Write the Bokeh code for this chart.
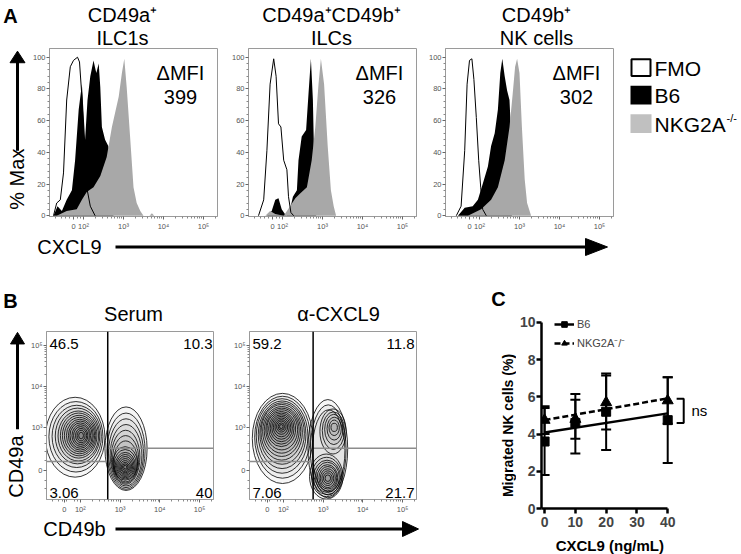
import math
import numpy as np
from bokeh.plotting import figure
from bokeh.layouts import row, column
from bokeh.models import (Label, FixedTicker, Whisker, TeeHead, ColumnDataSource, Legend,
                          LegendItem, Range1d, Span, CustomJSTickFormatter)
from bokeh.embed import file_html
from bokeh.resources import INLINE

FONT = "Liberation Sans"

# ---------------- Panel A: CXCL9 histograms (x: display decades, y: % Max) ----
titles_a = [["CD49a⁺", "ILC1s"], ["CD49a⁺CD49b⁺", "ILCs"], ["CD49b⁺", "NK cells"]]
dmfi = ["399", "326", "302"]

fmo1_x = [1.25, 1.33, 1.42, 1.50, 1.58, 1.67, 1.75, 1.85, 1.90, 1.96, 2.00, 2.04, 2.08, 2.17, 2.29]
fmo1_y = [0, 8, 10, 27, 73, 94, 98, 100, 97, 75, 52, 35, 18, 6, 0]
b61_x = [1.25, 1.35, 1.46, 1.58, 1.71, 1.79, 1.88, 1.96, 2.04, 2.10, 2.17, 2.25, 2.32, 2.38,
         2.42, 2.46, 2.54, 2.62, 2.67, 2.75]
b61_y = [0, 6, 3, 10, 16, 35, 67, 83, 48, 73, 88, 98, 90, 96, 81, 56, 48, 44, 37, 0]
ko1_x = [1.33, 1.58, 1.83, 1.96, 2.08, 2.25, 2.42, 2.58, 2.71, 2.79, 2.88, 2.96, 3.02, 3.08,
         3.17, 3.25, 3.33, 3.42, 3.50, 3.65, 3.71, 3.77]
ko1_y = [0, 3, 4, 10, 15, 18, 25, 37, 56, 65, 75, 90, 99, 81, 48, 18, 8, 3, 0, 0, 1.5, 0]

fmo2_x = [1.40, 1.53, 1.61, 1.69, 1.78, 1.84, 1.90, 1.96, 2.03, 2.11, 2.15, 2.21, 2.28]
fmo2_y = [0, 10, 41, 83, 99, 88, 58, 56, 35, 29, 12, 2, 0]
b62_x = [1.61, 1.73, 1.82, 1.90, 1.98, 2.09, 2.18, 2.26, 2.36, 2.40, 2.48, 2.59, 2.65, 2.71,
         2.76, 2.79, 2.84]
b62_y = [0, 3, 10, 11, 4, 0, 3, 12, 16, 35, 50, 54, 77, 99, 73, 37, 0]
ko2_x = [1.57, 1.69, 1.82, 2.03, 2.19, 2.32, 2.44, 2.61, 2.73, 2.82, 2.90, 2.96, 3.04, 3.13,
         3.21, 3.28, 3.34]
ko2_y = [0, 3, 1, 0, 6, 11, 14, 18, 35, 56, 83, 99, 83, 44, 16, 6, 0]

fmo3_x = [1.42, 1.54, 1.63, 1.69, 1.75, 1.81, 1.86, 1.92, 1.98, 2.03, 2.08, 2.17]
fmo3_y = [0, 6, 41, 83, 98, 99, 86, 62, 35, 18, 4, 0]
b63_x = [1.46, 1.63, 1.83, 1.96, 2.08, 2.21, 2.29, 2.38, 2.46, 2.52, 2.57, 2.63, 2.69, 2.75,
         2.77, 2.81]
b63_y = [0, 5, 6, 10, 20, 31, 44, 52, 67, 90, 99, 88, 79, 73, 62, 0]
ko3_x = [1.71, 2.04, 2.29, 2.46, 2.63, 2.75, 2.83, 2.89, 2.94, 3.00, 3.06, 3.13, 3.19, 3.29]
ko3_y = [0, 4, 10, 18, 35, 56, 77, 94, 99, 90, 56, 23, 8, 0]

log_tick_pos = [1.75, 2, 3, 4, 5]
log_tick_lab = ["0", "10²", "10³", "10⁴", "10⁵"]
pct_ticks = [0, 20, 40, 60, 80, 100]
legend_a = ["FMO", "B6", "NKG2A"]

# ---------------- Panel B: CD49a vs CD49b contour plots ----------------
titles_b = ["Serum", "α-CXCL9"]
quad_serum = ["46.5", "10.3", "3.06", "40"]
quad_acx = ["59.2", "11.8", "7.06", "21.7"]
gate_serum = [2.69, 2.17, 2.49]   # vertical x, left horizontal y, right horizontal y
gate_acx = [2.75, 2.17, 2.49]
b_xtick_pos = [1.6, 2, 3, 4, 5]
b_xtick_lab = ["0", "10²", "10³", "10⁴", "10⁵"]
b_ytick_pos = [1.95, 3, 4, 5]
b_ytick_lab = ["0", "10³", "10⁴", "10⁵"]

serum_cx = [1.87, 1.89, 1.91, 1.93, 1.95, 1.96, 1.97, 1.98, 1.99, 2.00, 2.00, 2.01, 2.01, 2.02, 2.02, 2.02,
            3.15, 3.15, 3.15, 3.15, 3.14, 3.14, 3.14, 3.13, 3.13, 3.13, 3.13, 3.13, 3.13, 3.13, 3.13, 3.13, 3.13]
serum_cy = [2.76, 2.77, 2.78, 2.79, 2.79, 2.80, 2.80, 2.80, 2.80, 2.80, 2.80, 2.80, 2.80, 2.80, 2.80, 2.80,
            2.48, 2.42, 2.37, 2.32, 2.27, 2.22, 2.17, 2.12, 2.10, 2.08, 2.07, 2.06, 2.05, 2.04, 2.03, 2.03, 2.03]
serum_w = [1.50, 1.36, 1.24, 1.12, 1.02, 0.92, 0.84, 0.76, 0.68, 0.60, 0.52, 0.44, 0.36, 0.28, 0.20, 0.12,
           1.06, 0.96, 0.88, 0.80, 0.72, 0.66, 0.60, 0.62, 0.56, 0.50, 0.44, 0.38, 0.32, 0.26, 0.20, 0.14, 0.08]
serum_h = [1.95, 1.72, 1.52, 1.36, 1.22, 1.10, 0.99, 0.89, 0.80, 0.71, 0.62, 0.53, 0.44, 0.35, 0.26, 0.16,
           2.04, 1.86, 1.68, 1.50, 1.32, 1.16, 1.00, 0.82, 0.72, 0.62, 0.54, 0.46, 0.38, 0.30, 0.23, 0.16, 0.09]

acx_cx = [1.98, 1.98, 1.97, 1.97, 1.97, 1.96, 1.96, 1.96, 1.96, 1.95, 1.95, 1.95, 1.95, 1.95, 1.95, 1.95, 1.95, 1.95,
          3.12, 3.13, 3.14, 3.25, 3.26, 3.27, 3.28, 3.28, 3.28,
          3.08, 3.09, 3.10, 3.11, 3.11, 3.12, 3.12, 3.12, 3.12, 3.12]
acx_cy = [2.73, 2.76, 2.79, 2.82, 2.85, 2.88, 2.90, 2.92, 2.94, 2.96, 2.97, 2.98, 2.99, 3.00, 3.01, 3.02, 3.02, 3.02,
          2.48, 2.45, 2.43, 2.90, 2.92, 2.95, 2.97, 2.99, 3.00,
          1.80, 1.79, 1.78, 1.78, 1.77, 1.77, 1.76, 1.76, 1.76, 1.76]
acx_w = [1.52, 1.40, 1.30, 1.20, 1.12, 1.04, 0.96, 0.88, 0.80, 0.72, 0.64, 0.56, 0.48, 0.40, 0.32, 0.24, 0.16, 0.09,
         1.00, 0.90, 0.82, 0.66, 0.56, 0.46, 0.36, 0.26, 0.16,
         0.84, 0.76, 0.68, 0.60, 0.52, 0.45, 0.38, 0.30, 0.22, 0.14]
acx_h = [2.20, 2.00, 1.82, 1.65, 1.50, 1.36, 1.22, 1.10, 0.98, 0.86, 0.76, 0.66, 0.56, 0.46, 0.36, 0.27, 0.18, 0.10,
         2.40, 2.20, 2.00, 1.10, 0.92, 0.74, 0.56, 0.38, 0.20,
         1.10, 0.96, 0.84, 0.74, 0.64, 0.55, 0.46, 0.36, 0.26, 0.16]

# ---------------- Panel C: migration assay ----------------
conc = [0, 10, 20, 40]
b6_mean = [3.6, 4.6, 5.2, 4.75]
b6_lo = [1.8, 2.95, 3.15, 2.45]
b6_hi = [5.4, 6.15, 7.25, 7.05]
ko_mean = [4.75, 4.8, 5.7, 5.8]
ko_lo = [4.0, 3.75, 4.25, 4.55]
ko_hi = [5.5, 5.85, 7.15, 7.05]
c_xticks = [0, 10, 20, 30, 40]
c_yticks = [0, 2, 4, 6, 8, 10]


# ---------------- helpers ----------------
def mk(width, height, xr, yr, L, R, T, B):
    p = figure(width=width, height=height, x_range=Range1d(*xr), y_range=Range1d(*yr),
               min_border_left=L, min_border_right=R, min_border_top=T, min_border_bottom=B,
               toolbar_location=None, output_backend="svg", title=None)
    p.xgrid.visible = False
    p.ygrid.visible = False
    p.background_fill_color = "white"
    p.border_fill_color = "white"
    return p


def label(p, fr, text, rx, ry, size, bold=False, align="center", baseline="middle"):
    """Label inside a plot frame; fr = (frame left, frame bottom) in page pixels."""
    fl, fb = fr
    p.add_layout(Label(x=rx - fl, y=fb - ry, x_units="screen", y_units="screen",
                       text=text, text_font=FONT, text_font_size=f"{size}px",
                       text_font_style="bold" if bold else "normal",
                       text_align=align, text_baseline=baseline, text_color="black"))


class Decor:
    """An axis-free strip used for panel letters, titles, arrows and legends."""

    def __init__(self, ox, oy, w, h):
        self.ox, self.oy = ox, oy
        p = figure(width=w, height=h, x_range=Range1d(0, w), y_range=Range1d(h, 0),
                   min_border=0, toolbar_location=None, output_backend="svg", title=None,
                   x_axis_location=None, y_axis_location=None)
        p.xgrid.visible = False
        p.ygrid.visible = False
        p.outline_line_color = None
        p.background_fill_color = "white"
        p.border_fill_color = "white"
        self.p = p

    def text(self, t, rx, ry, size, bold=False, align="center", baseline="middle", angle=0.0):
        self.p.add_layout(Label(x=rx - self.ox, y=ry - self.oy, text=t, text_font=FONT,
                                text_font_size=f"{size}px",
                                text_font_style="bold" if bold else "normal",
                                text_align=align, text_baseline=baseline, angle=angle,
                                text_color="black"))

    def arrow(self, x0, y0, x1, y1, head_len, head_w, width=3):
        dx, dy = x1 - x0, y1 - y0
        n = math.hypot(dx, dy)
        ux, uy = dx / n, dy / n
        bx, by = x1 - ux * head_len, y1 - uy * head_len
        px, py = -uy, ux
        ox, oy = self.ox, self.oy
        self.p.segment(x0=[x0 - ox], y0=[y0 - oy], x1=[bx + ux - ox], y1=[by + uy - oy],
                       line_width=width, line_color="black")
        self.p.patch(x=[x1 - ox, bx + px * head_w / 2 - ox, bx - px * head_w / 2 - ox],
                     y=[y1 - oy, by + py * head_w / 2 - oy, by - py * head_w / 2 - oy],
                     fill_color="black", line_color="black", line_width=1)

    def box(self, l, t, r, b, fill, line=None, lw=0):
        ox, oy = self.ox, self.oy
        self.p.quad(left=[l - ox], right=[r - ox], top=[t - oy], bottom=[b - oy],
                    fill_color=fill, line_color=line, line_width=lw)


def fmt(pos, lab):
    return CustomJSTickFormatter(args=dict(pos=pos, lab=lab), code="""
        for (let i = 0; i < pos.length; i++) { if (Math.abs(pos[i] - tick) < 1e-6) return lab[i]; }
        return '';""")


log_minor = [n + math.log10(k) for n in (2, 3, 4) for k in range(2, 10)] + \
            [5 + math.log10(2)] + [1.3, 1.45, 1.55, 1.65, 1.85, 1.92]


def flow_axes(p, xpos, xlab, ypos, ylab, yminor):
    p.outline_line_color = "#9a9a9a"
    for ax in (p.xaxis, p.yaxis):
        ax.axis_line_color = "#9a9a9a"
        ax.major_tick_line_color = "#666666"
        ax.minor_tick_line_color = "#888888"
        ax.major_tick_in = 0
        ax.major_tick_out = 3
        ax.minor_tick_in = 0
        ax.minor_tick_out = 2
        ax.major_label_text_font = FONT
        ax.major_label_text_font_size = "7.5px"
        ax.major_label_text_color = "#555555"
        ax.major_label_standoff = 2
    p.yaxis.major_label_standoff = 1
    p.xaxis.ticker = FixedTicker(ticks=xpos, minor_ticks=log_minor)
    p.xaxis.formatter = fmt(xpos, xlab)
    p.yaxis.ticker = FixedTicker(ticks=ypos, minor_ticks=yminor)
    if ylab is not None:
        p.yaxis.formatter = fmt(ypos, ylab)
    p.yaxis.major_label_orientation = "horizontal"


# ======================= Row 1: panel A =======================
hist_data = [(fmo1_x, fmo1_y, b61_x, b61_y, ko1_x, ko1_y),
             (fmo2_x, fmo2_y, b62_x, b62_y, ko2_x, ko2_y),
             (fmo3_x, fmo3_y, b63_x, b63_y, ko3_x, ko3_y)]
a_specs = [(196, 20, 8, 29), (200, 23, 9, 225), (196, 20, 8, 425)]   # width, L, R, x0
a_title_cx = [122, 331, 536]
pct_minor = [v for v in range(0, 101, 4) if v % 20 != 0]

topA = Decor(0, 0, 741, 47)
topA.text("A", 10, 15, 20, bold=True)
hists = []
for i, (w, L, R, x0) in enumerate(a_specs):
    p = mk(w, 189, (1.15, 5.35), (-0.5, 105.5), L, R, 1, 20)
    fx, fy, bx, by, kx, ky = hist_data[i]
    p.varea(x=bx, y1=0, y2=by, fill_color="black")
    p.varea(x=kx, y1=0, y2=ky, fill_color="#a8a8a8")
    p.line(x=fx, y=fy, line_color="black", line_width=1)
    flow_axes(p, log_tick_pos, log_tick_lab, pct_ticks, None, pct_minor)
    fl = x0 + L
    fr = (fl, 216)
    label(p, fr, "ΔMFI", fl + 168 - 37, 72, 20)
    label(p, fr, dmfi[i], fl + 168 - 37, 96, 20)
    topA.text(titles_a[i][0], a_title_cx[i], 14, 20)
    topA.text(titles_a[i][1], a_title_cx[i], 37, 20)
    hists.append(p)

leftA = Decor(0, 47, 29, 189)
leftA.text("% Max", 16.5, 194, 20, angle=math.pi / 2)
leftA.arrow(17, 162, 17, 50, 13, 15)

legA = Decor(621, 47, 120, 189)
legA.box(631, 59, 650, 78, "white", "black", 2)
legA.box(630, 89, 651, 110, "black")
legA.box(630, 121, 651, 142, "#c0c0c0")
for t, yy in zip(legend_a, [69, 100, 132]):
    legA.text(t, 654, yy, 21, align="left")
legA.text("-/-", 726, 125, 11, align="left")

botA = Decor(0, 236, 741, 34)
botA.text("CXCL9", 69, 246, 20)
botA.arrow(115, 246.5, 607, 246.5, 22, 17)

rowA = column(topA.p, row(leftA.p, *hists, legA.p), botA.p)

# ======================= Row 2: panel B =======================
b_specs = [(202, 18, 16, 27), (211, 20, 24, 229)]
b_data = [(serum_cx, serum_cy, serum_w, serum_h, gate_serum, quad_serum),
          (acx_cx, acx_cy, acx_w, acx_h, gate_acx, quad_acx)]
b_title_cx = [133, 338]
b_yminor = [n + math.log10(k) for n in (3, 4) for k in range(2, 10)] + [2.2, 2.4, 2.6, 2.8, 1.5, 1.7]

topB = Decor(0, 270, 440, 60)
topB.text("B", 10, 300, 20, bold=True)
flows = []
for i, (w, L, R, x0) in enumerate(b_specs):
    xr = (1.15, 5.35)
    p = mk(w, 189, xr, (1.24, 5.34), L, R, 1, 20)
    cx, cy, cw, ch, gate, quad = b_data[i]
    p.ellipse(x=cx, y=cy, width=cw, height=ch, fill_color="black", fill_alpha=0.035,
              line_color="black", line_width=0.8)
    p.segment(x0=[xr[0], gate[0]], y0=[gate[1], gate[2]], x1=[gate[0], xr[1]], y1=[gate[1], gate[2]],
              line_color="#8c8c8c", line_width=1.5)
    p.add_layout(Span(location=gate[0], dimension="height", line_color="black", line_width=1.5))
    flow_axes(p, b_xtick_pos, b_xtick_lab, b_ytick_pos, b_ytick_lab, b_yminor)
    fl = x0 + L
    fw = w - L - R
    fr = (fl, 499)
    label(p, fr, quad[0], fl + 3, 343, 15, align="left")
    label(p, fr, quad[1], fl + fw - 2, 343, 15, align="right")
    label(p, fr, quad[2], fl + 3, 492, 15, align="left")
    label(p, fr, quad[3], fl + fw - 2, 492, 15, align="right")
    topB.text(titles_b[i], b_title_cx[i], 313, 20)
    flows.append(p)

leftB = Decor(0, 330, 27, 189)
leftB.text("CD49a", 15.5, 482, 20, angle=math.pi / 2)
leftB.arrow(17, 440, 17, 331, 13, 14)

botB = Decor(0, 519, 440, 35)
botB.text("CD49b", 74, 528, 20)
botB.arrow(115, 528.5, 418, 528.5, 16, 15)

colB = column(topB.p, row(leftB.p, *flows), botB.p)

# ======================= Panel C =======================
pc = mk(225, 266, (-1, 53.9), (0, 10.32), 24, 31, 46, 28)
pc.outline_line_color = None
fit_x = [conc[0], conc[-1]]
fit_b6 = np.polyval(np.polyfit(conc, b6_mean, 1), fit_x)
fit_ko = np.polyval(np.polyfit(conc, ko_mean, 1), fit_x)
l_b6 = pc.line(x=fit_x, y=fit_b6, line_color="black", line_width=2.5)
l_ko = pc.line(x=fit_x, y=fit_ko, line_color="black", line_width=2.5, line_dash="6 3")
for lo, hi in ((b6_lo, b6_hi), (ko_lo, ko_hi)):
    src = ColumnDataSource(dict(x=conc, lo=lo, hi=hi))
    pc.add_layout(Whisker(source=src, base="x", lower="lo", upper="hi", line_color="black", line_width=2,
                          upper_head=TeeHead(size=10, line_width=2, line_color="black"),
                          lower_head=TeeHead(size=10, line_width=2, line_color="black")))
s_b6 = pc.scatter(x=conc, y=b6_mean, marker="square", size=9, color="black")
s_ko = pc.scatter(x=conc, y=ko_mean, marker="triangle", size=11, color="black")
br_top = ko_mean[-1] + 0.1
br_bot = b6_mean[-1] - 0.15
br_x0 = conc[-1] + 2.9
br_x1 = conc[-1] + 5.2
pc.line(x=[br_x0, br_x1, br_x1, br_x0], y=[br_top, br_top, br_bot, br_bot], line_color="black", line_width=2)

for ax in (pc.xaxis, pc.yaxis):
    ax.axis_line_width = 2.5
    ax.major_tick_line_width = 2.5
    ax.major_tick_in = 0
    ax.major_tick_out = 5
    ax.minor_tick_line_color = None
    ax.major_label_text_font = FONT
    ax.major_label_text_font_size = "14px"
    ax.major_label_text_font_style = "bold"
    ax.major_label_standoff = 1
pc.xaxis.major_label_standoff = 3
pc.xaxis.ticker = FixedTicker(ticks=c_xticks)
pc.yaxis.ticker = FixedTicker(ticks=c_yticks)
pc.xaxis.bounds = (-1, c_xticks[-1])
pc.yaxis.bounds = (c_yticks[0], c_yticks[-1])

leg = Legend(items=[LegendItem(label="B6", renderers=[l_b6, s_b6]),
                    LegendItem(label="NKG2A⁻/⁻", renderers=[l_ko, s_ko])],
             location=(13, 158), glyph_width=20, glyph_height=14, label_height=14, spacing=4,
             padding=0, margin=0, label_standoff=3, label_text_font=FONT,
             label_text_font_size="11px", border_line_alpha=0, background_fill_alpha=0)
pc.add_layout(leg)
label(pc, (540, 508), "ns", 690, 410, 15, align="left")

leftC = Decor(440, 270, 76, 284)
leftC.text("C", 498, 298, 20, bold=True)
leftC.text("Migrated NK cells (%)", 507, 425, 14, bold=True, angle=math.pi / 2)
botC = Decor(516, 536, 225, 18)
botC.text("CXCL9 (ng/mL)", 607, 545, 15, bold=True)

rowB = row(colB, row(leftC.p, column(pc, botC.p)))

layout = column(rowA, rowB)

open("out.html", "w").write(file_html(layout, INLINE))
